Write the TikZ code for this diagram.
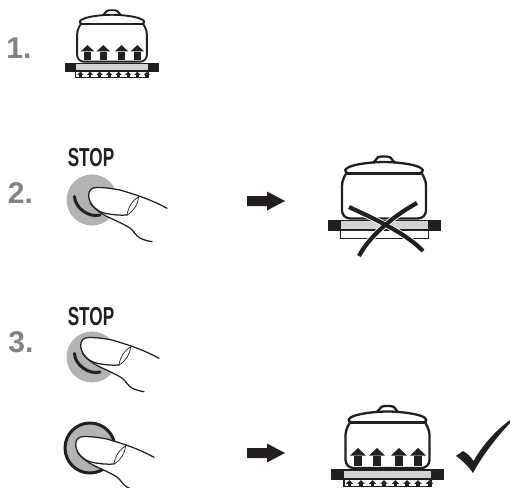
\documentclass[tikz,border=0pt]{standalone}
\usepackage{fontspec}
\usepackage{xcolor}
\usepackage{tikz}
\setmainfont{Liberation Sans}
\newfontfamily\stopfont[FakeStretch=.66]{Liberation Sans}
\definecolor{inkc}{HTML}{231F20}
\definecolor{numc}{HTML}{808285}
\definecolor{btnc}{HTML}{B1B3B4}
\definecolor{platec}{HTML}{D1D3D4}
\tikzset{
  numlabel/.style={text=numc,font=\fontsize{30}{30}\selectfont\bfseries,inner sep=0pt},
  stoplabel/.style={text=inkc,font=\fontsize{26}{26}\selectfont\stopfont\bfseries,inner sep=0pt},
  fingerline/.style={draw=inkc,line width=1.25pt,line cap=round,line join=round},
  bigarrow/.style={fill=inkc}
}
% pot on plate: x, y, scale
\newcommand{\potshape}[3]{
  \begin{scope}[shift={(#1,#2)},scale=#3,draw=inkc,line width=#3*2.3pt]
  \draw[line cap=round] (-11,-57) .. controls (-8,-58) and (-8,-63) .. (-3,-63) -- (3,-63) .. controls (8,-63) and (8,-58) .. (11,-57);
  \draw (-38,-47) .. controls (-44,-54) and (-15,-57.5) .. (0,-57.5) .. controls (15,-57.5) and (44,-54) .. (38,-47);
  \draw[line width=#3*3pt] (-39,-46.5) -- (39,-46.5);
  \draw[rounded corners=#3*8pt] (-38,-46) -- (-42,-42) -- (-42,-1) -- (42,-1) -- (42,-42) -- (38,-46);
  \fill[inkc] (-56.5,0) rectangle (56.5,11);
  \fill[platec] (-43.5,1.8) rectangle (43.5,9.2);
  \end{scope}
}
% rising heat inside the pot
\newcommand{\potheat}[3]{
  \begin{scope}[shift={(#1,#2)},scale=#3]
  \foreach \hx in {-29.5,-10.5,11.5,30.5}{
    \fill[inkc] (\hx-4.2,-3) rectangle (\hx+4.2,-13);
    \fill[inkc] (\hx-8,-13.5) -- (\hx,-21) -- (\hx+8,-13.5) -- cycle;
  }
  \foreach \hx in {-38,-26.5,-15,-3.5,8,19.5,30.5,42}{
    \fill[inkc] (\hx-1.7,18) rectangle (\hx+1.7,14);
    \fill[inkc] (\hx-3.6,14.8) -- (\hx,11) -- (\hx+3.6,14.8) -- cycle;
  }
  \draw[inkc,line width=#3*1.1pt] (-43.5,11) -- (-43.5,17.5) -- (43.5,17.5) -- (43.5,11);
  \end{scope}
}
% finger on a knob: knob centre, finger offset
\newcommand{\fingershape}[4]{
  \begin{scope}[shift={(#1+#3,#2+#4)}]
  \fill[white] (-3.3,-3.3) .. controls (-4,-10) and (0,-12.5) .. (5,-12.5) .. controls (15,-12.5) and (22,-11) .. (28,-10)
    -- (75,8.3) -- (60,41.7) -- (48.3,38.3) -- (38.3,28.3) -- (11.7,15) -- (-1.7,3.3) -- cycle;
  \draw[fingerline] (-3.3,-3.3) .. controls (-4,-10) and (0,-12.5) .. (5,-12.5) .. controls (15,-12.5) and (22,-11) .. (28,-10)
    .. controls (45,-5) and (60,0) .. (75,8.3);
  \draw[fingerline] (-3.3,-3.3) .. controls (-2,6) and (6,12) .. (14,13.5) .. controls (22,15) and (29,15.5) .. (35,15);
  \draw[fingerline,line width=.7pt] (35,15) .. controls (36,7) and (41,0) .. (46.7,-3.3);
  \draw[fingerline,line width=.7pt] (35,15) .. controls (42,11) and (46,4) .. (46.7,-3.3);
  \draw[fingerline] (-1.7,3.3) .. controls (3,9) and (8,13) .. (14,16) .. controls (22,20) and (32,24) .. (38.3,28.3)
    .. controls (42,31) and (43,35) .. (48.3,38.3) .. controls (52,40) and (56,41) .. (60,41.7);
  \end{scope}
}
\newcommand{\knobarc}[2]{
  \draw[inkc,line width=3pt,line cap=round] (#1-17.5,#2-3.5) .. controls (#1-17,#2+8) and (#1-3,#2+18) .. (#1+8,#2+15);
}
\newcommand{\bigarrowshape}[1]{
  \fill[bigarrow] (247,#1-5) -- (267,#1-5) -- (267,#1-9.5) -- (285,#1) -- (267,#1+9.5) -- (267,#1+5) -- (247,#1+5) -- cycle;
}

\begin{document}
\begin{tikzpicture}[x=1pt,y=-1pt]
\useasboundingbox (0,0) rectangle (510,487);
\node[numlabel] (numA) at (19,48) {1.};
\node[numlabel] (numB) at (20.5,193) {2.};
\node[numlabel] (numC) at (21,342) {3.};
\node[stoplabel] (stopB) at (91,157.5) {STOP};
\node[stoplabel] (stopC) at (91,317) {STOP};

\potshape{112}{62.5}{.83}
\potheat{112}{62.5}{.83}

\fill[btnc] (92,200) circle (25.5);
\knobarc{92}{200}
\fingershape{92}{200}{0}{0}
\bigarrowshape{201}
\potshape{384}{219.5}{1}
\draw[inkc,line width=1pt] (340.5,231) -- (340.5,238) -- (428,238) -- (428,231);
\draw[white,line width=6pt] (349,207) .. controls (368,216) and (405,232) .. (423,251);
\draw[white,line width=6pt] (417,203) .. controls (395,215) and (370,235) .. (359,256);
\draw[inkc,line width=4.2pt] (349,207) .. controls (368,216) and (405,232) .. (423,251);
\draw[inkc,line width=4.2pt] (417,203) .. controls (395,215) and (370,235) .. (359,256);

\fill[btnc] (92,357) circle (25.5);
\knobarc{92}{357}
\fingershape{92}{357}{-8}{-7}

\fill[btnc] (90,448) circle (25);
\draw[inkc,line width=3pt] (90,448) circle (25);
\fingershape{90}{448}{-11}{1}
\bigarrowshape{453}
\potshape{387.5}{469}{1}
\potheat{387.5}{469}{1}
\fill[inkc] (456,456) -- (463,451) .. controls (467,453) and (471,457) .. (473.5,461)
  .. controls (482,446) and (495,431) .. (510,420) -- (510,423)
  .. controls (496,438) and (482,456) .. (473,473) .. controls (468,466) and (462,460) .. (456,456) -- cycle;
\end{tikzpicture}
\end{document}
